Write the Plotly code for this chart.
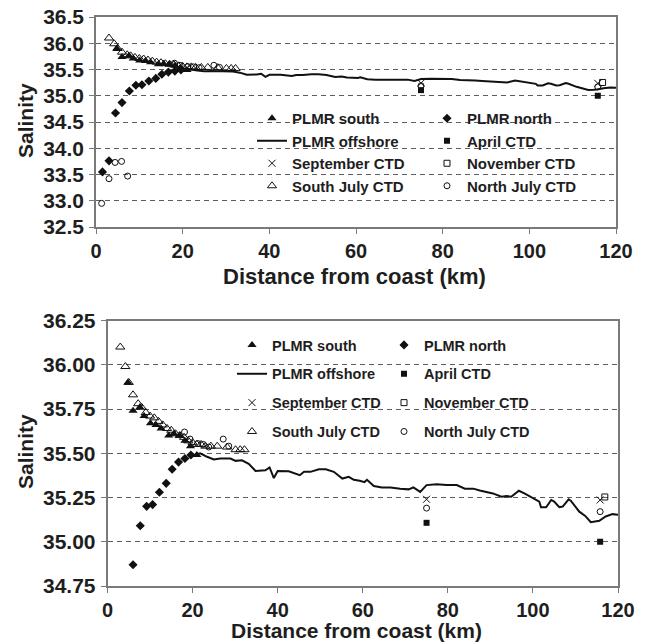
import plotly.graph_objects as go

# ---------------- data (distance km, salinity) ----------------
south_km = [4.8, 6.0, 7.6, 8.6, 10.1, 11.4, 12.6, 14.4, 15.6, 16.9, 18.2, 19.5, 21.0]
south_sal = [35.90, 35.74, 35.76, 35.71, 35.67, 35.66, 35.64, 35.60, 35.61, 35.60, 35.57, 35.54, 35.49]

north_km = [1.5, 3.0, 4.5, 6.0, 7.7, 9.2, 10.6, 12.2, 13.8, 15.2, 16.7, 18.2, 19.6]
north_sal = [33.55, 33.76, 34.67, 34.87, 35.09, 35.20, 35.21, 35.28, 35.33, 35.41, 35.45, 35.47, 35.49]

offshore_km = [20.5, 21.8, 23.4, 25.0, 26.5, 28.9, 30.1, 31.6, 33.2, 34.8, 37.1, 38.1, 39.1, 40.0,
               42.6, 44.2, 45.2, 46.2, 47.7, 49.7, 51.3, 53.2, 55.2, 56.7, 57.9, 59.3, 60.4, 61.0,
               62.6, 64.5, 66.5, 68.8, 70.8, 71.9, 73.5, 75.0, 77.4, 79.7, 82.1, 84.0, 86.0, 87.5,
               89.1, 90.6, 92.6, 93.8, 94.9, 96.7, 98.0, 100.0, 101.5, 101.9, 103.1, 104.3, 105.0,
               106.2, 107.0, 108.4, 108.9, 110.9, 112.3, 113.6, 114.8, 115.6, 117.1, 118.7, 120.0]
offshore_sal = [35.49, 35.50, 35.48, 35.465, 35.47, 35.47, 35.457, 35.46, 35.44, 35.40, 35.404, 35.42,
                35.36, 35.40, 35.398, 35.385, 35.376, 35.395, 35.395, 35.41, 35.41, 35.395, 35.357,
                35.367, 35.35, 35.345, 35.337, 35.35, 35.315, 35.307, 35.307, 35.30, 35.296, 35.307,
                35.282, 35.32, 35.325, 35.32, 35.32, 35.30, 35.30, 35.29, 35.282, 35.273, 35.254,
                35.258, 35.254, 35.288, 35.273, 35.245, 35.227, 35.195, 35.195, 35.236, 35.227,
                35.195, 35.199, 35.24, 35.232, 35.17, 35.146, 35.11, 35.114, 35.118, 35.143,
                35.156, 35.152]

april_km = [75.0, 115.8]
april_sal = [35.107, 35.00]

sept_km = [75.0, 115.8]
sept_sal = [35.24, 35.236]

nov_km = [116.9]
nov_sal = [35.253]

sjuly_km = [3.0, 4.2, 5.0, 6.0, 7.2, 8.0, 9.0, 10.0, 11.0, 12.0, 13.0, 14.0, 15.0, 16.0, 17.0, 18.0,
            19.0, 20.0, 21.0, 22.0, 23.0, 24.3, 25.8, 28.1, 30.1, 31.2, 32.2]
sjuly_sal = [36.10, 35.99, 35.90, 35.83, 35.78, 35.76, 35.73, 35.71, 35.70, 35.68, 35.66, 35.64,
             35.63, 35.61, 35.60, 35.59, 35.57, 35.56, 35.55, 35.55, 35.54, 35.54, 35.54, 35.535,
             35.52, 35.52, 35.52]

njuly_km = [1.3, 3.0, 4.4, 5.9, 7.3, 18.1, 19.4, 21.2, 22.5, 23.8, 27.2, 28.5, 75.0, 115.8]
njuly_sal = [32.95, 33.42, 33.73, 33.75, 33.47, 35.62, 35.58, 35.555, 35.55, 35.535, 35.58, 35.54,
             35.19, 35.17]

top_ticks = [32.5, 33.0, 33.5, 34.0, 34.5, 35.0, 35.5, 36.0, 36.5]
bottom_ticks = [34.75, 35.00, 35.25, 35.50, 35.75, 36.00, 36.25]
x_ticks = [0, 20, 40, 60, 80, 100, 120]

# ---------------- styling ----------------
FONT = "Liberation Sans, Arial, sans-serif"
TXT = "#1e1e1e"
INK = "#111111"
W, H = 646, 642

series = [
    ("South July CTD", sjuly_km, sjuly_sal, dict(mode="markers", marker=dict(symbol="triangle-up-open", size=8, color=INK, line=dict(width=1, color=INK))), 0),
    ("North July CTD", njuly_km, njuly_sal, dict(mode="markers", marker=dict(symbol="circle-open", size=6, color=INK, line=dict(width=1, color=INK))), 1),
    ("PLMR south", south_km, south_sal, dict(mode="markers", marker=dict(symbol="triangle-up", size=8, color=INK)), 0),
    ("PLMR north", north_km, north_sal, dict(mode="markers", marker=dict(symbol="diamond", size=7, color=INK)), 1),
    ("PLMR offshore", offshore_km, offshore_sal, dict(mode="lines", line=dict(color=INK, width=2)), 0),
    ("April CTD", april_km, april_sal, dict(mode="markers", marker=dict(symbol="square", size=6, color=INK)), 1),
    ("September CTD", sept_km, sept_sal, dict(mode="markers", marker=dict(symbol="x-thin", size=7, color=INK, line=dict(width=1, color=INK))), 0),
    ("November CTD", nov_km, nov_sal, dict(mode="markers", marker=dict(symbol="square-open", size=6, color=INK, line=dict(width=1, color=INK))), 1),
]
legend_rank = {"PLMR south": 1, "PLMR offshore": 2, "September CTD": 3, "South July CTD": 4,
               "PLMR north": 1, "April CTD": 2, "November CTD": 3, "North July CTD": 4}

fig = go.Figure()
for name, xs, ys, style, col in series:
    fig.add_trace(go.Scatter(x=xs, y=ys, name=name, xaxis="x", yaxis="y",
                             legend="legend" if col == 0 else "legend2",
                             legendrank=legend_rank[name], **style))
    fig.add_trace(go.Scatter(x=xs, y=ys, name=name, xaxis="x2", yaxis="y2",
                             legend="legend3" if col == 0 else "legend4",
                             legendgroup="b_" + name, legendrank=legend_rank[name], **style))

axis_common = dict(showline=True, linecolor="#7a7a7a", linewidth=1.5, mirror=True,
                   ticks="outside", ticklen=5, tickcolor="#7a7a7a", tickwidth=1.2,
                   automargin=False, zeroline=False)
yfont = dict(family=FONT, size=21, color=TXT, weight="bold")
xfont = dict(family=FONT, size=20, color=TXT, weight="bold")

top_dom_x = [96 / W, 616 / W]
top_dom_y = [(H - 227) / H, (H - 17) / H]
bot_dom_x = [107.5 / W, 618 / W]
bot_dom_y = [(H - 586) / H, (H - 320.5) / H]

fig.update_layout(
    width=W, height=H, margin=dict(l=0, r=0, t=0, b=0),
    paper_bgcolor="white", plot_bgcolor="white",
    xaxis=dict(domain=top_dom_x, anchor="y", range=[0, 120], tickvals=x_ticks,
               showgrid=False, tickfont=xfont, **axis_common),
    yaxis=dict(domain=top_dom_y, anchor="x", range=[32.5, 36.5], tickvals=top_ticks,
               tickformat=".1f", showgrid=True, gridcolor="#5e5e5e", gridwidth=1,
               griddash="5px,4px", ticklabelstandoff=1, tickfont=yfont, **axis_common),
    xaxis2=dict(domain=bot_dom_x, anchor="y2", range=[0, 120], tickvals=x_ticks,
                showgrid=False, tickfont=xfont, **axis_common),
    yaxis2=dict(domain=bot_dom_y, anchor="x2", range=[34.75, 36.25], tickvals=bottom_ticks,
                tickformat=".2f", showgrid=True, gridcolor="#5e5e5e", gridwidth=1,
                griddash="5px,4px", ticklabelstandoff=1, tickfont=yfont, **axis_common),
)

leg_common = dict(bgcolor="rgba(0,0,0,0)", borderwidth=0, orientation="v",
                  xanchor="left", yanchor="top", xref="paper", yref="paper")
fig.update_layout(
    legend=dict(x=252 / W, y=(H - 102) / H, font=dict(family=FONT, size=15, color=TXT, weight="bold"),
                tracegroupgap=0, traceorder="normal", **leg_common),
    legend2=dict(x=427 / W, y=(H - 102) / H, font=dict(family=FONT, size=15, color=TXT, weight="bold"),
                 tracegroupgap=0, traceorder="normal", **leg_common),
    legend3=dict(x=232 / W, y=(H - 329) / H, font=dict(family=FONT, size=14.5, color=TXT, weight="bold"),
                 tracegroupgap=7, traceorder="grouped", **leg_common),
    legend4=dict(x=384 / W, y=(H - 329) / H, font=dict(family=FONT, size=14.5, color=TXT, weight="bold"),
                 tracegroupgap=7, traceorder="grouped", **leg_common),
)

# white legend background boxes (between gridlines and data)
fig.add_shape(type="rect", xref="paper", yref="paper", layer="between",
              x0=247 / W, x1=608 / W, y0=(H - 199) / H, y1=(H - 99) / H,
              fillcolor="white", line=dict(width=0))
fig.add_shape(type="rect", xref="paper", yref="paper", layer="between",
              x0=232 / W, x1=537 / W, y0=(H - 445) / H, y1=(H - 322) / H,
              fillcolor="white", line=dict(width=0))

fig.add_annotation(text="Distance from coast (km)", xref="paper", yref="paper",
                   x=354 / W, y=(H - 276) / H, xanchor="center", yanchor="middle",
                   showarrow=False, font=dict(family=FONT, size=22, color=TXT, weight="bold"))
fig.add_annotation(text="Distance from coast (km)", xref="paper", yref="paper",
                   x=356 / W, y=(H - 630) / H, xanchor="center", yanchor="middle",
                   showarrow=False, font=dict(family=FONT, size=21, color=TXT, weight="bold"))
fig.add_annotation(text="Salinity", xref="paper", yref="paper", textangle=-90,
                   x=26 / W, y=(H - 121) / H, xanchor="center", yanchor="middle",
                   showarrow=False, font=dict(family=FONT, size=21, color=TXT, weight="bold"))
fig.add_annotation(text="Salinity", xref="paper", yref="paper", textangle=-90,
                   x=25 / W, y=(H - 452) / H, xanchor="center", yanchor="middle",
                   showarrow=False, font=dict(family=FONT, size=21, color=TXT, weight="bold"))

fig.write_html("out.html", config={"displayModeBar": False},
               post_script="document.body.style.margin='0';document.body.style.padding='0';"
                           "document.documentElement.style.overflow='hidden';")
